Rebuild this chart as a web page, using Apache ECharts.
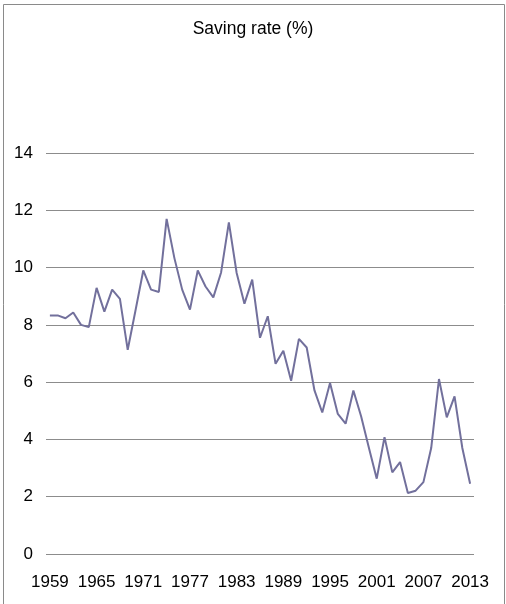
<!DOCTYPE html>
<html>
<head>
<meta charset="utf-8">
<script src="https://cdn.jsdelivr.net/npm/echarts@6/dist/echarts.min.js"></script>
<style>
  html, body { margin: 0; padding: 0; background: #fff; }
  #chart { width: 506px; height: 604px; }
</style>
</head>
<body>
<div id="chart"></div>
<script>
// years 1959 - 2013
const years = [];
for (let y = 1959; y <= 2013; y++) years.push(String(y));

// saving rate (%)
const savingRate = [
  8.33, 8.33, 8.23, 8.43, 8.0, 7.92, 9.29, 8.46, 9.23, 8.91,
  7.13, 8.5, 9.9, 9.23, 9.15, 11.7, 10.33, 9.23, 8.53, 9.9,
  9.34, 8.96, 9.83, 11.58, 9.81, 8.74, 9.58, 7.55, 8.3, 6.64,
  7.1, 6.05, 7.51, 7.21, 5.71, 4.94, 5.97, 4.89, 4.55, 5.71,
  4.8, 3.7, 2.63, 4.08, 2.85, 3.21, 2.13, 2.21, 2.51, 3.7,
  6.11, 4.77, 5.5, 3.7, 2.45
];

const chart = echarts.init(document.getElementById('chart'));

chart.setOption({
  animation: false,
  title: {
    text: 'Saving rate (%)',
    left: 'center',
    top: 15,
    textStyle: { fontFamily: 'Liberation Sans', fontSize: 17.5, fontWeight: 'normal', color: '#000' }
  },
  graphic: [{
    type: 'rect',
    shape: { x: 3.5, y: 4.5, width: 501, height: 620 },
    style: { fill: 'none', stroke: '#8a8a8a', lineWidth: 1 },
    silent: true
  }],
  grid: { left: 46, right: 32, top: 153, bottom: 50 },
  xAxis: {
    type: 'category',
    data: years,
    boundaryGap: true,
    axisLine: { show: false },
    axisTick: { show: false },
    axisLabel: {
      interval: 5,
      margin: 20,
      fontFamily: 'Liberation Sans',
      fontSize: 17,
      color: '#000'
    }
  },
  yAxis: {
    type: 'value',
    min: 0,
    max: 14,
    interval: 2,
    axisLine: { show: false },
    axisTick: { show: false },
    splitLine: { lineStyle: { color: '#8c8c8c', width: 1 } },
    axisLabel: {
      margin: 13,
      fontFamily: 'Liberation Sans',
      fontSize: 17,
      color: '#000'
    }
  },
  series: [{
    type: 'line',
    data: savingRate,
    symbol: 'none',
    lineStyle: { color: '#72709c', width: 2 }
  }]
});
</script>
</body>
</html>
